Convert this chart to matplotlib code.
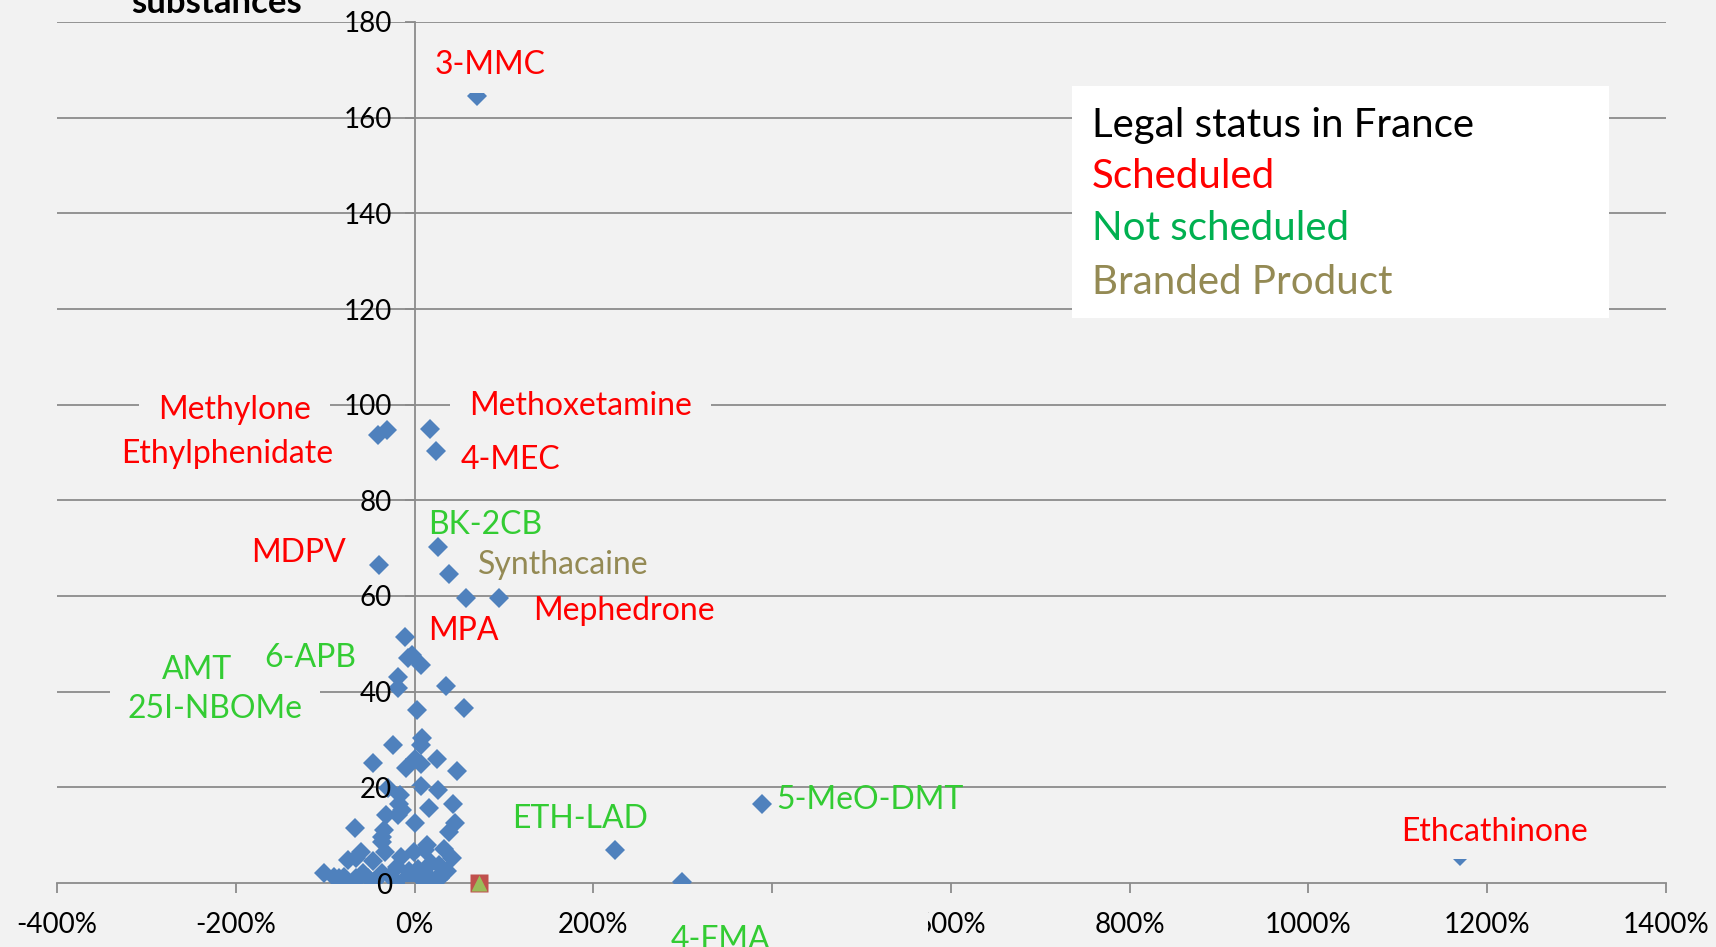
import matplotlib
matplotlib.use("Agg")
import matplotlib.pyplot as plt
from matplotlib.patches import Rectangle

plt.rcParams['font.family'] = ['Lato', 'DejaVu Sans']

BG = '#F2F2F2'
GRID = '#8C8C8C'
BLUE = '#4F81BD'
COLORS = {'sched': '#FF0000', 'not': '#33CC33', 'brand': '#948A54'}

# change in number of reports (%) vs number of reports, one diamond per substance
x_pct = [70, -31, -41, 17, 23.5, 26, 38, 58, 94, -40,
         -11, -7.5, -2.6, 6.7, -18, -18, 35, 3, 55, 8,
         7, -24, 1, 25, 7, -47, -10, 47, 7, 26,
         -30, -16, -17.5, 43, 16, -14, -32, -19, 45, 1,
         38, -67, -34, -36, -36, -1, 14, 33, 42, 27,
         -15.6, -60, -75, -46, -90, -101, -79, -66, -68, -52,
         -36, -33, -14, -1, 12, 9, 22, 31, 18.5, -20,
         -65, -85, -58, -44, -27, -22, -6, 4, 15, 28,
         36, 224, 299, 389, 1169]
reports = [164.5, 94.8, 93.7, 95.0, 90.3, 70.3, 64.6, 59.5, 59.5, 66.5,
           51.5, 47.0, 47.6, 45.6, 43.1, 40.8, 41.2, 36.2, 36.6, 30.4,
           28.8, 28.8, 26.0, 26.0, 24.9, 25.0, 24.0, 23.4, 20.3, 19.4,
           19.9, 18.4, 16.6, 16.6, 15.6, 15.3, 14.2, 14.2, 12.6, 12.5,
           10.7, 11.6, 11.1, 9.7, 8.6, 6.5, 8.0, 7.2, 5.2, 3.8,
           5.5, 6.5, 4.8, 4.5, 1.3, 2.0, 1.3, 1.0, 0.0, 1.0,
           2.1, 6.5, 0.3, 0.6, 6.9, 0.6, 0.3, 2.0, 4.1, 3.4,
           5.2, 1.0, 2.0, 0.5, 1.5, 0.5, 2.5, 3.0, 1.5, 1.0,
           2.5, 7.0, 0.2, 16.6, 5.6]

# the other two series sit on top of each other
other_x = [72]
other_y = [0]

label_names = ['3-MMC', 'Methylone', 'Ethylphenidate', 'Methoxetamine', '4-MEC',
               'BK-2CB', 'Synthacaine', 'MDPV', 'Mephedrone', 'MPA', '6-APB',
               '25I-NBOMe', 'AMT', 'ETH-LAD', '5-MeO-DMT', 'Ethcathinone']
label_status = ['sched', 'sched', 'sched', 'sched', 'sched',
                'not', 'brand', 'sched', 'sched', 'sched', 'not',
                'not', 'not', 'not', 'not', 'sched']
# label layout (centre in data units, box padding; None = no box)
label_pos = [(84, 171), (-201, 98.8), (-209.5, 89.6), (185.5, 99.7), (107, 88.4),
             (79, 74.8), (166, 66.5), (-130, 69), (234, 56.9), (54.7, 52.6), (-116.5, 47.1),
             (-223, 36.3), (-243.6, 44.5), (185.5, 13.4), (509.5, 17.3), (1208, 10.7)]
label_pad = [0.4, 0.6, None, 0.6, None, None, None, None, None, None, None,
             0.55, 0.05, None, None, 0.38]

legend_lines = ['Legal status in France', 'Scheduled', 'Not scheduled', 'Branded Product']
legend_colors = ['black', '#FF0000', '#00B050', '#948A54']

W, H = 1716, 947
fig = plt.figure(figsize=(W / 100, H / 100), dpi=100, facecolor=BG)
ax = fig.add_axes([57 / W, 64 / H, 1609 / W, 861 / H])
ax.set_facecolor(BG)
ax.set_xlim(-400, 1400)
ax.set_ylim(0, 180)

for yv in range(20, 181, 20):
    ax.axhline(yv, color=GRID, lw=1.3, zorder=0.5)

for s in ['top', 'right']:
    ax.spines[s].set_visible(False)
ax.spines['left'].set_position(('data', 0))
for s in ['left', 'bottom']:
    ax.spines[s].set_color(GRID)
    ax.spines[s].set_linewidth(1.3)
    ax.spines[s].set_zorder(1)

xt = list(range(-400, 1401, 200))
ax.set_xticks(xt)
ax.set_xticklabels([f'{v}%' for v in xt])
ax.set_yticks(range(0, 181, 20))
ax.tick_params(axis='x', direction='out', length=7.2, width=1.3, color=GRID,
               pad=14, labelsize=20)
ax.tick_params(axis='y', direction='out', length=7.2, width=1.3, color=GRID,
               pad=9, labelsize=20)
ax.xaxis.set_zorder(5)
ax.yaxis.set_zorder(5)

ax.plot(x_pct, reports, ls='none', marker='D', ms=10, mfc=BLUE, mec=BLUE, mew=0, zorder=2)
ax.plot(other_x, other_y, ls='none', marker='s', ms=12.5, mfc='#C0504D', mec='none',
        zorder=2.1, clip_on=False)
ax.plot(other_x, other_y, ls='none', marker='^', ms=12, mfc='#9BBB59', mec='none',
        zorder=2.2, clip_on=False)

for name, st, (lx, ly), p in zip(label_names, label_status, label_pos, label_pad):
    box = None if p is None else dict(boxstyle=f'square,pad={p}', fc=BG, ec='none')
    ax.text(lx, ly, name, color=COLORS[st], fontsize=23, ha='center', va='center',
            zorder=4, bbox=box)

# 4-FMA label box hides the 400% tick label
ax.add_patch(Rectangle((252, -3), 322, -20, fc=BG, ec='none', zorder=6, clip_on=False))
ax.text(342, -11.9, '4-FMA', color=COLORS['not'], fontsize=23, ha='center', va='center',
        zorder=7, clip_on=False)

fig.text(131 / W, 1 - 13 / H, 'substances', fontweight='bold', fontsize=25,
         ha='left', va='baseline')

fig.patches.append(Rectangle((1072 / W, 1 - 318 / H), 537 / W, 232 / H,
                             transform=fig.transFigure, fc='white', ec='none', zorder=3))
for i, (t, c) in enumerate(zip(legend_lines, legend_colors)):
    yc = [125, 176, 229, 282][i]
    fig.text(1092 / W, 1 - yc / H, t, color=c, fontsize=29, ha='left', va='center', zorder=4)

fig.savefig('out.png', dpi=100, facecolor=BG)
